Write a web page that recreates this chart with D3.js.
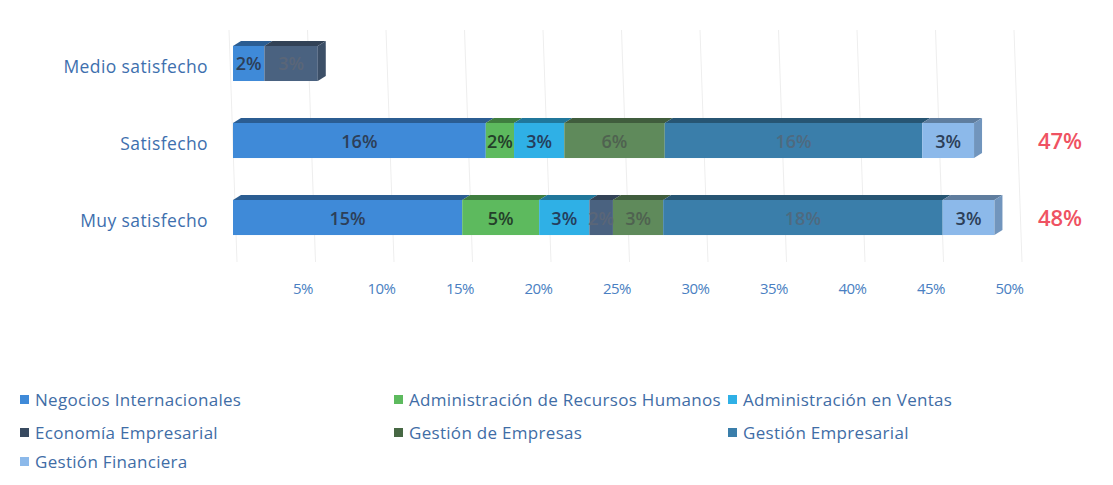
<!DOCTYPE html>
<html>
<head>
<meta charset="utf-8">
<script src="https://cdn.jsdelivr.net/npm/d3@7"></script>
<style>
  body { margin: 0; background: #fff; }
  svg text { font-family: "Open Sans", sans-serif; }
</style>
</head>
<body>
<div id="chart"></div>
<script>
// ===== Data =====
const categories = ["Medio satisfecho", "Satisfecho", "Muy satisfecho"];
const seriesNames = [
  "Negocios Internacionales",
  "Administración de Recursos Humanos",
  "Administración en Ventas",
  "Economía Empresarial",
  "Gestión de Empresas",
  "Gestión Empresarial",
  "Gestión Financiera"
];
// values in %, one array per series, ordered like categories
const negociosInt   = [2.0, 16.1, 14.6];
const adminRRHH     = [0,   1.8,  4.9];
const adminVentas   = [0,   3.2,  3.2];
const economiaEmp   = [3.4, 0,    1.5];
const gestionEmpr   = [0,   6.4,  3.2];
const gestionEmp    = [0,   16.4, 17.8];
const gestionFin    = [0,   3.3,  3.3];
const totals = ["", "47%", "48%"];
const tickValues = [5, 10, 15, 20, 25, 30, 35, 40, 45, 50];

const seriesValues = [negociosInt, adminRRHH, adminVentas, economiaEmp, gestionEmpr, gestionEmp, gestionFin];
const colors = ["#3f8ad8", "#5dba5e", "#2fb0e6", "#4a6280", "#5f8a5b", "#3a7eaa", "#8cb9ea"];
const labelColors = ["#2d3f58", "#24402a", "#253e5c", "#5a6678", "#4f6250", "#4e6a80", "#2d3f58"];

// ===== Layout =====
const W = 1113, H = 485;
const svg = d3.select("#chart").append("svg").attr("width", W).attr("height", H);

const x = d3.scaleLinear().domain([0, 50]).range([233, 1018]);
const y = d3.scaleBand().domain(categories).range([4, 272]).padding(0.48);
const depthX = 8, depthY = -5;

// faint gridlines
svg.append("g").selectAll("line")
  .data([0].concat(tickValues))
  .join("line")
  .attr("x1", d => x(d) - 4).attr("x2", d => x(d) + 4)
  .attr("y1", 30).attr("y2", 262)
  .attr("stroke", "#eeeeee").attr("stroke-width", 1);

// stack data
const rows = categories.map((c, i) => {
  let acc = 0;
  const segs = seriesValues.map((arr, s) => {
    const seg = {cat: c, s: s, x0: acc, x1: acc + arr[i], v: arr[i]};
    acc += arr[i];
    return seg;
  }).filter(d => d.v > 0);
  return {cat: c, segs: segs, end: acc};
});

const bars = svg.append("g");
rows.forEach(row => {
  const y0 = y(row.cat) - depthY;
  const h = y.bandwidth() + depthY;
  const g = bars.append("g");
  // top faces
  g.selectAll("path.top")
    .data(row.segs)
    .join("path")
    .attr("d", d => `M${x(d.x0)},${y0} L${x(d.x1)},${y0} L${x(d.x1)+depthX},${y0+depthY} L${x(d.x0)+depthX},${y0+depthY}Z`)
    .attr("fill", d => d3.color(colors[d.s]).darker(1.1));
  // front faces
  g.selectAll("rect")
    .data(row.segs)
    .join("rect")
    .attr("x", d => x(d.x0))
    .attr("y", y0)
    .attr("width", d => x(d.x1) - x(d.x0))
    .attr("height", h)
    .attr("fill", d => colors[d.s]);
  // end face
  const last = row.segs[row.segs.length - 1];
  const xe = x(row.end);
  g.append("path")
    .attr("d", `M${xe},${y0} L${xe+depthX},${y0+depthY} L${xe+depthX},${y0+h+depthY} L${xe},${y0+h}Z`)
    .attr("fill", d3.color(colors[last.s]).darker(0.6));
  // labels
  g.selectAll("text")
    .data(row.segs)
    .join("text")
    .attr("x", d => (x(d.x0) + x(d.x1)) / 2)
    .attr("y", y0 + h / 2 + 7)
    .attr("text-anchor", "middle")
    .attr("font-size", 18)
    .attr("font-weight", 600)
    .attr("fill", d => labelColors[d.s])
    .text(d => Math.round(d.v) + "%");
});

// category labels
svg.append("g").selectAll("text")
  .data(categories)
  .join("text")
  .attr("x", 208)
  .attr("y", d => y(d) + y.bandwidth() / 2 + 12)
  .attr("text-anchor", "end")
  .attr("font-size", 17.5)
  .attr("letter-spacing", 0.4)
  .attr("fill", "#3e6fae")
  .text(d => d);

// totals
svg.append("g").selectAll("text")
  .data(categories)
  .join("text")
  .attr("x", 1060)
  .attr("y", d => y(d) + y.bandwidth() / 2 + 11)
  .attr("text-anchor", "middle")
  .attr("font-size", 22)
  .attr("font-weight", 600)
  .attr("fill", "#ef5262")
  .text((d, i) => totals[i]);

// x axis
const xAxis = svg.append("g")
  .attr("transform", "translate(-9,279)")
  .call(d3.axisBottom(x).tickValues(tickValues).tickFormat(d => d + "%").tickSize(0));
xAxis.select(".domain").remove();
xAxis.selectAll("text")
  .attr("font-size", 15)
  .attr("letter-spacing", -0.5)
  .attr("fill", "#4a7fc2")
  .attr("dy", 12);

// legend
const legendPos = [
  [20, 400], [394, 400], [728, 400],
  [20, 433], [394, 433], [728, 433],
  [20, 462]
];
const legend = svg.append("g").selectAll("g")
  .data(seriesNames)
  .join("g")
  .attr("transform", (d, i) => `translate(${legendPos[i][0]},${legendPos[i][1]})`);
legend.append("rect")
  .attr("x", 0).attr("y", -5).attr("width", 9).attr("height", 9)
  .attr("fill", (d, i) => d3.color(colors[i]).darker(i === 3 || i === 4 ? 0.8 : 0));
legend.append("text")
  .attr("x", 15).attr("y", 6)
  .attr("font-size", 17)
  .attr("letter-spacing", 0.3)
  .attr("fill", "#3f6da6")
  .text(d => d);
</script>
</body>
</html>
